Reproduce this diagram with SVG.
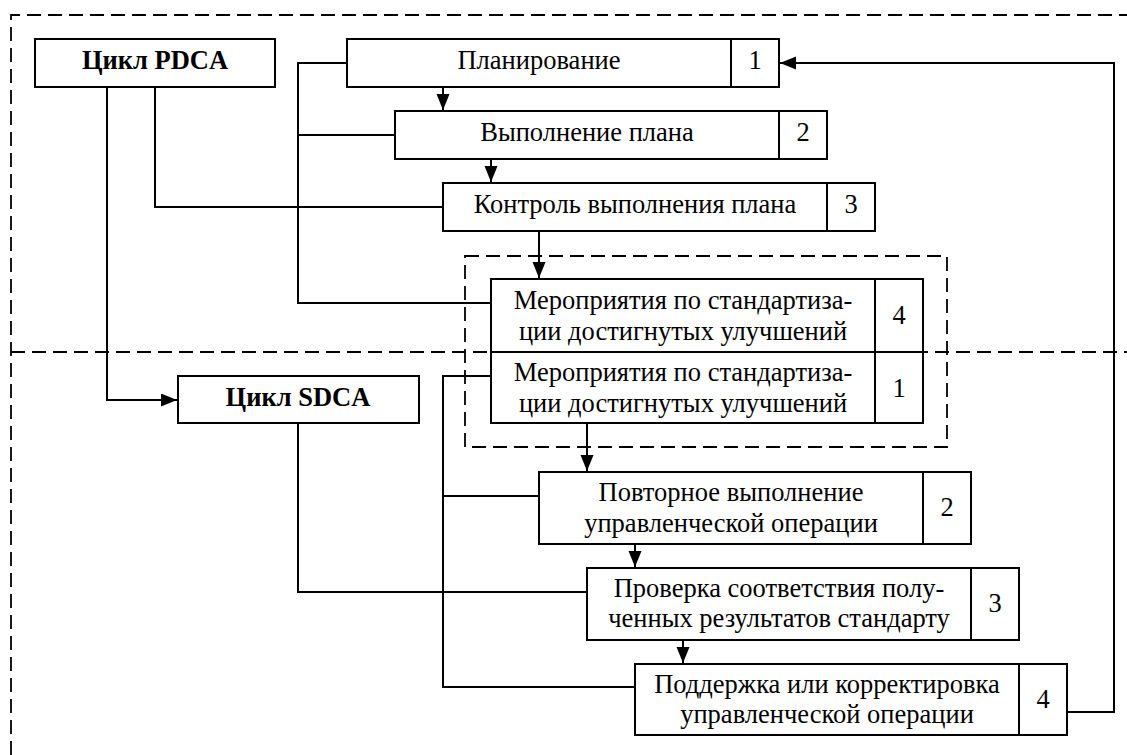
<svg xmlns="http://www.w3.org/2000/svg" width="1127" height="755" viewBox="0 0 1127 755">
<style>
.bx{fill:#fff;stroke:#000;stroke-width:2}
.dv{stroke:#000;stroke-width:2}
.t{font-family:"Liberation Serif","Times New Roman",serif;font-size:26.5px;fill:#000;text-anchor:middle}
.b{font-weight:bold}
.ln{fill:none;stroke:#000;stroke-width:2}
.ds{fill:none;stroke:#000;stroke-width:1.8;stroke-dasharray:14 7}
</style>
<defs>
<marker id="ah" markerUnits="userSpaceOnUse" markerWidth="17" markerHeight="14" refX="16" refY="6.5" orient="auto">
<path d="M0,0 L16,6.5 L0,13 z" fill="#000"/>
</marker>
</defs>
<rect width="1127" height="755" fill="#fff"/>
<g id="frames">
<path class="ds" d="M11,755 V15 H1127"/>
<path class="ds" d="M11,352 H1127"/>
<rect class="ds" x="465" y="256" width="482" height="191"/>
</g>
<g id="connectors">
<path class="ln" d="M107,87 V400 H177" marker-end="url(#ah)"/>
<path class="ln" d="M155,87 V207 H443"/>
<path class="ln" d="M347,63 H298 V303 H491"/>
<path class="ln" d="M298,135 H395"/>
<path class="ln" d="M443,87 V110" marker-end="url(#ah)"/>
<path class="ln" d="M491,159 V182" marker-end="url(#ah)"/>
<path class="ln" d="M539,231 V278" marker-end="url(#ah)"/>
<path class="ln" d="M587,423 V471" marker-end="url(#ah)"/>
<path class="ln" d="M491,376 H443 V687 H635"/>
<path class="ln" d="M443,496 H539"/>
<path class="ln" d="M298,423 V592 H587"/>
<path class="ln" d="M635,544 V567" marker-end="url(#ah)"/>
<path class="ln" d="M683,640 V663" marker-end="url(#ah)"/>
<path class="ln" d="M1067,712 H1114 V63 H780" marker-end="url(#ah)"/>
</g>
<g id="pdca">
<rect class="bx" x="35" y="39" width="240" height="48"/>
<text class="t b" x="155" y="69">Цикл PDCA</text>
</g>
<g id="sdca">
<rect class="bx" x="178" y="376" width="241" height="47"/>
<text class="t b" x="298" y="406">Цикл SDCA</text>
</g>
<g id="plan">
<rect class="bx" x="347" y="39" width="432" height="48"/>
<line class="dv" x1="731" y1="39" x2="731" y2="87"/>
<text class="t" x="539" y="69">Планирование</text>
<text class="t" x="755" y="69">1</text>
</g>
<g id="exec">
<rect class="bx" x="395" y="111" width="432" height="48"/>
<line class="dv" x1="779" y1="111" x2="779" y2="159"/>
<text class="t" x="587" y="141">Выполнение плана</text>
<text class="t" x="803" y="141">2</text>
</g>
<g id="ctrl">
<rect class="bx" x="443" y="183" width="432" height="48"/>
<line class="dv" x1="827" y1="183" x2="827" y2="231"/>
<text class="t" x="635" y="213">Контроль выполнения плана</text>
<text class="t" x="851" y="213">3</text>
</g>
<g id="std4">
<rect class="bx" x="491" y="279" width="432" height="73"/>
<line class="dv" x1="875" y1="279" x2="875" y2="352"/>
<text class="t" x="683" y="309">Мероприятия по стандартиза-</text>
<text class="t" x="683" y="340">ции достигнутых улучшений</text>
<text class="t" x="899" y="324">4</text>
</g>
<g id="std1">
<rect class="bx" x="491" y="352" width="432" height="71"/>
<line class="dv" x1="875" y1="352" x2="875" y2="423"/>
<text class="t" x="683" y="381">Мероприятия по стандартиза-</text>
<text class="t" x="683" y="412">ции достигнутых улучшений</text>
<text class="t" x="899" y="397">1</text>
</g>
<g id="repeat">
<rect class="bx" x="539" y="472" width="432" height="72"/>
<line class="dv" x1="923" y1="472" x2="923" y2="544"/>
<text class="t" x="731" y="501">Повторное выполнение</text>
<text class="t" x="731" y="532">управленческой операции</text>
<text class="t" x="947" y="516">2</text>
</g>
<g id="check">
<rect class="bx" x="587" y="568" width="432" height="72"/>
<line class="dv" x1="971" y1="568" x2="971" y2="640"/>
<text class="t" x="779" y="597">Проверка соответствия полу-</text>
<text class="t" x="779" y="627">ченных результатов стандарту</text>
<text class="t" x="995" y="612">3</text>
</g>
<g id="support">
<rect class="bx" x="635" y="664" width="432" height="71"/>
<line class="dv" x1="1019" y1="664" x2="1019" y2="735"/>
<text class="t" x="827" y="693">Поддержка или корректировка</text>
<text class="t" x="827" y="723">управленческой операции</text>
<text class="t" x="1043" y="708">4</text>
</g>
</svg>
